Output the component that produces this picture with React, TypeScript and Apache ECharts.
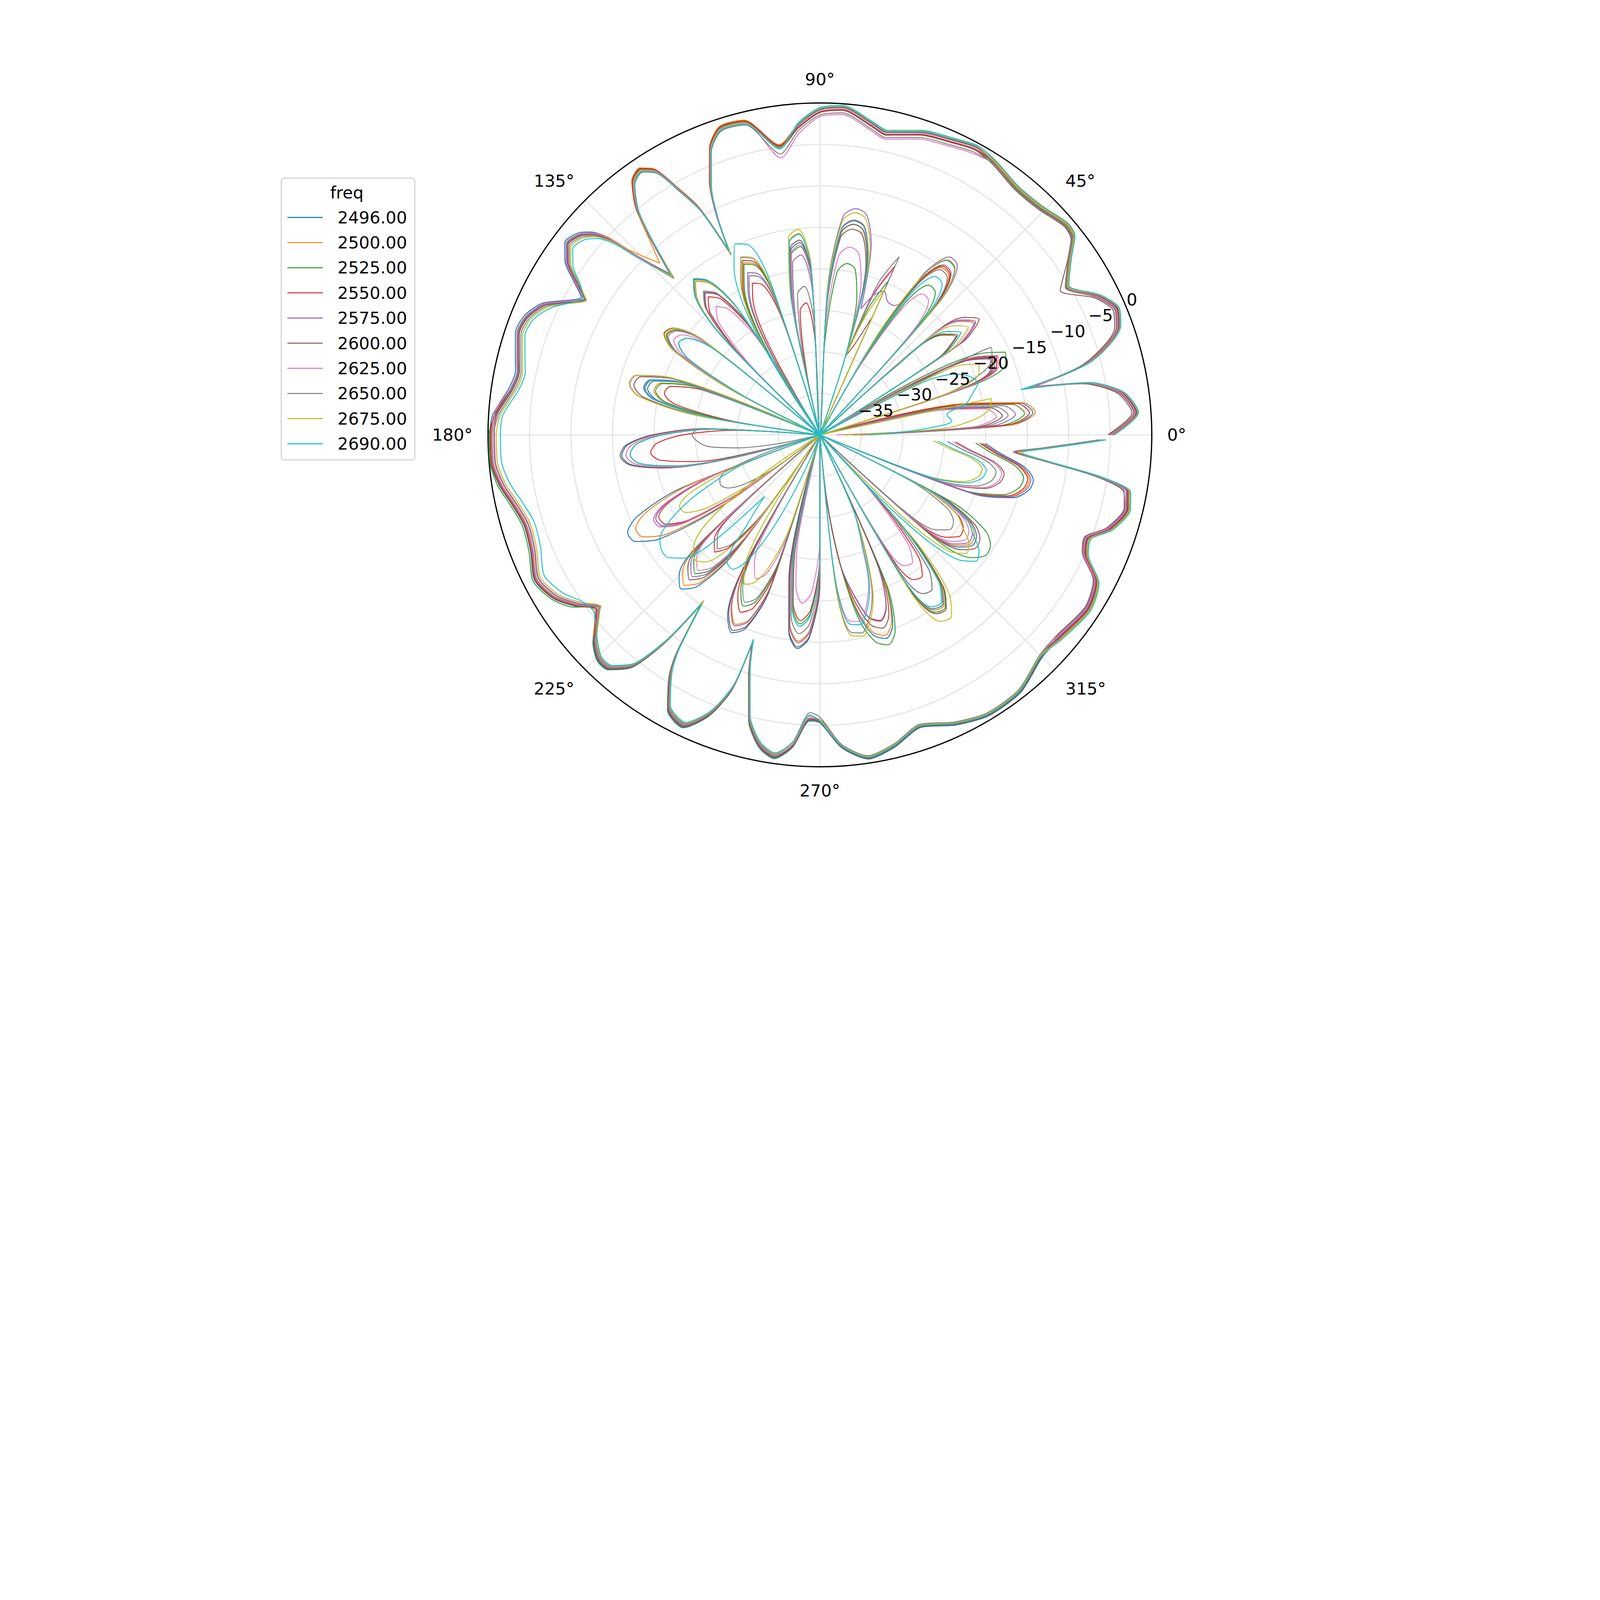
import { useEffect, useRef } from 'react';
import * as echarts from 'echarts';

const FONT = 'DejaVu Sans';

const FREQS = ['2496.00', '2500.00', '2525.00', '2550.00', '2575.00', '2600.00', '2625.00', '2650.00', '2675.00', '2690.00'];
const COLORS = ['#1f77b4', '#ff7f0e', '#2ca02c', '#d62728', '#9467bd', '#8c564b', '#e377c2', '#7f7f7f', '#bcbd22', '#17becf'];

// outer cut: angles (deg) shared by all frequencies
const OUTER_DEG = [
  0, 4, 8, 11, 12.7, 15, 20, 23, 26.5,
  31, 35, 38, 40.5, 45.5, 49.5, 52, 57.5,
  61.5, 66, 71.5, 77.5, 80.5, 86, 90, 94,
  98, 103.5, 108, 111, 113.5, 115.2, 116.3, 118, 120, 122, 124, 126.5, 129, 130.7, 133,
  135.9, 137, 138.5, 140, 143, 145.7, 148, 150, 154.6, 158, 161.5, 165, 168, 171.5, 176.5,
  180, 185, 189, 193, 197, 202, 207, 211.5, 215, 218,
  222.5, 225.5, 228, 231, 233.3, 235, 236.7, 238, 241, 245, 248.5, 251, 252, 253.5, 256, 259, 262, 265, 268,
  270, 274, 278.5, 283.5, 289, 295, 301, 308, 315,
  320, 327, 332, 336, 339, 342, 346.5, 349.5, 351.5, 353.5, 355, 356.5, 358, 359,
];

const OUTER_2496 = [
  -4.7, -1.7, -3.2, -7.1, -13.7, -6.5, -1.6, -1.0, -2.4,
  -5.1, -3.1, -1.1, -0.8, -1.6, -1.8, -1.7, -0.8,
  -0.5, -1.0, -1.5, -2.6, -1.9, -0.4, -0.75, -2.5,
  -4.7, -1.0, -0.9, -2.9, -6.6, -10.6, -15.4, -8.9, -5.5, -2.2, -1.2, -1.9, -4.7, -8.4, -13.8,
  -8.4, -5.1, -3.1, -2.1, -1.5, -2.8, -5.0, -6.8, -3.0, -1.6, -1.3, -2.0, -2.5, -2.1, -0.5,
  -0.2, -0.2, -0.9, -2.0, -2.7, -2.4, -1.4, -2.3, -4.0, -5.8,
  -2.9, -1.75, -1.9, -3.9, -8.7, -15.3, -8.4, -5.7, -2.1, -1.05, -3.6, -7.5, -13.6, -9.7, -4.5, -1.6, -0.6, -2.2, -5.5,
  -5.3, -2.2, -0.5, -1.3, -2.7, -1.4, -0.5, -0.65, -2.1,
  -2.1, -1.4, -2.2, -4.9, -5.3, -3.2, -1.8, -2.2, -6.0, -12.9, -16.2, -13.0, -9.0, -5.8,
];
const OUTER_2500 = [
  -4.6, -1.6, -3.1, -7.0, -14.0, -6.4, -1.5, -0.9, -2.3,
  -5.1, -3.1, -1.1, -0.8, -1.6, -1.8, -1.7, -0.8,
  -0.6, -1.1, -1.6, -2.7, -2.0, -0.5, -0.85, -2.6,
  -4.7, -1.0, -0.9, -2.9, -6.6, -10.8, -15.0, -8.9, -5.5, -2.2, -1.2, -1.9, -4.7, -8.0, -11.7,
  -8.0, -5.1, -3.3, -2.3, -1.7, -3.0, -5.2, -7.0, -3.2, -1.8, -1.5, -2.2, -2.7, -2.3, -0.7,
  -0.4, -0.4, -1.1, -2.2, -2.9, -2.6, -1.6, -2.5, -4.2, -5.6,
  -3.0, -1.85, -2.0, -4.0, -8.8, -15.0, -8.5, -5.8, -2.2, -1.15, -3.7, -7.6, -13.9, -9.8, -4.6, -1.7, -0.7, -2.3, -5.6,
  -5.4, -2.3, -0.6, -1.4, -2.8, -1.5, -0.6, -0.75, -2.2,
  -2.0, -1.3, -2.1, -4.8, -5.2, -3.1, -1.7, -2.1, -5.9, -12.8, -16.0, -12.9, -8.9, -5.7,
];
const OUTER_2525 = [
  -4.9, -1.9, -3.4, -7.3, -13.8, -6.7, -1.8, -1.2, -2.6,
  -5.4, -3.4, -1.4, -1.1, -1.9, -2.1, -2.0, -1.1,
  -0.9, -1.4, -1.9, -3.0, -2.3, -0.8, -1.15, -2.9,
  -4.9, -1.2, -1.1, -3.1, -6.8, -10.8, -15.6, -9.1, -5.7, -2.4, -1.4, -2.1, -4.9, -8.6, -13.9,
  -8.7, -5.4, -3.4, -2.4, -1.8, -3.1, -5.3, -7.4, -3.3, -1.9, -1.6, -2.3, -2.8, -2.4, -0.8,
  -0.1, -0.1, -0.7, -1.8, -2.5, -2.2, -1.2, -2.1, -3.8, -6.5,
  -3.0, -1.85, -2.0, -4.0, -8.8, -15.0, -8.5, -5.8, -2.2, -1.15, -3.7, -7.6, -13.8, -9.8, -4.6, -1.7, -0.7, -2.3, -5.6,
  -5.6, -2.5, -0.8, -1.6, -3.0, -1.7, -0.8, -0.95, -2.4,
  -2.3, -1.6, -2.4, -5.1, -5.5, -3.4, -2.0, -2.4, -6.2, -13.1, -16.5, -13.2, -9.2, -6.0,
];
const OUTER_2550 = [
  -4.8, -1.8, -3.3, -7.2, -13.5, -6.6, -1.7, -1.1, -2.5,
  -5.3, -3.3, -1.3, -1.0, -1.8, -2.0, -1.9, -1.0,
  -0.8, -1.3, -1.8, -2.9, -2.2, -0.7, -1.05, -2.8,
  -4.8, -1.1, -1.0, -3.0, -6.7, -10.7, -15.2, -9.0, -5.6, -2.3, -1.3, -2.0, -4.8, -8.5, -13.5,
  -8.6, -5.3, -3.3, -2.3, -1.7, -3.0, -5.2, -7.0, -3.2, -1.8, -1.5, -2.2, -2.7, -2.3, -0.7,
  -0.3, -0.3, -1.0, -2.1, -2.8, -2.5, -1.5, -2.4, -4.1, -5.9,
  -3.1, -1.95, -2.1, -4.1, -8.9, -15.4, -8.6, -5.9, -2.3, -1.25, -3.8, -7.7, -13.5, -9.9, -4.7, -1.8, -0.8, -2.4, -5.7,
  -5.5, -2.4, -0.7, -1.5, -2.9, -1.6, -0.7, -0.85, -2.3,
  -2.2, -1.5, -2.3, -5.0, -5.4, -3.3, -1.9, -2.3, -6.1, -13.0, -16.3, -13.1, -9.1, -5.9,
];
const OUTER_2575 = [
  -5.0, -2.0, -3.5, -7.4, -13.9, -6.8, -1.9, -1.3, -2.7,
  -5.3, -3.3, -1.3, -1.0, -1.8, -2.0, -1.9, -1.0,
  -0.6, -1.1, -1.6, -2.7, -2.0, -0.5, -0.85, -2.6,
  -5.0, -1.3, -1.2, -3.2, -6.9, -10.9, -15.6, -9.2, -5.8, -2.5, -1.5, -2.2, -5.0, -8.7, -14.0,
  -8.8, -5.5, -3.5, -2.5, -1.9, -3.2, -5.4, -7.2, -3.4, -2.0, -1.7, -2.4, -2.9, -2.5, -0.9,
  -0.5, -0.5, -1.2, -2.3, -3.0, -2.7, -1.7, -2.6, -4.3, -6.1,
  -3.2, -2.05, -2.2, -4.2, -9.0, -15.5, -8.7, -6.0, -2.4, -1.35, -3.9, -7.8, -13.9, -10.0, -4.8, -1.9, -0.9, -2.5, -5.8,
  -5.6, -2.5, -0.8, -1.6, -3.0, -1.7, -0.8, -0.95, -2.4,
  -2.3, -1.6, -2.4, -5.1, -5.5, -3.4, -2.0, -2.4, -6.2, -13.1, -16.4, -13.2, -9.2, -6.0,
];
const OUTER_2600 = [
  -5.3, -2.3, -3.8, -7.7, -14.3, -7.1, -2.2, -1.6, -3.0,
  -6.2, -3.6, -1.6, -1.3, -2.1, -2.3, -2.2, -1.3,
  -0.9, -1.4, -1.9, -3.0, -2.3, -0.8, -1.15, -2.9,
  -5.1, -1.4, -1.3, -3.3, -7.0, -11.0, -15.8, -9.3, -5.9, -2.6, -1.6, -2.3, -5.1, -8.8, -14.2,
  -8.9, -5.6, -3.6, -2.6, -2.0, -3.3, -5.5, -7.3, -3.5, -2.1, -1.8, -2.5, -3.0, -2.6, -1.0,
  -0.7, -0.7, -1.4, -2.5, -3.2, -2.9, -1.9, -2.8, -4.5, -6.3,
  -3.1, -1.95, -2.1, -4.1, -8.9, -15.5, -8.6, -5.9, -2.3, -1.25, -3.8, -7.7, -13.8, -9.9, -4.7, -1.8, -0.8, -2.4, -5.7,
  -5.4, -2.3, -0.6, -1.4, -2.8, -1.5, -0.6, -0.75, -2.2,
  -2.5, -1.8, -2.6, -5.3, -5.7, -3.6, -2.2, -2.8, -6.6, -13.3, -16.6, -13.4, -9.4, -6.2,
];
const OUTER_2625 = [
  -4.9, -1.9, -3.4, -7.3, -13.9, -6.7, -1.8, -1.2, -2.6,
  -5.5, -3.5, -1.5, -1.2, -2.0, -2.2, -2.1, -1.2,
  -1.4, -1.9, -2.4, -3.5, -2.8, -1.3, -1.65, -3.6,
  -6.3, -1.3, -1.2, -3.2, -6.9, -10.9, -15.5, -9.2, -5.8, -2.5, -1.5, -2.2, -5.0, -8.7, -13.9,
  -8.6, -5.3, -3.3, -2.3, -1.7, -3.0, -5.2, -7.0, -3.2, -1.8, -1.5, -2.2, -2.7, -2.3, -0.7,
  -0.8, -0.8, -1.5, -2.6, -3.3, -3.0, -2.0, -2.9, -4.6, -6.2,
  -3.3, -2.15, -2.3, -4.3, -9.1, -15.6, -8.8, -6.1, -2.5, -1.45, -4.0, -7.9, -14.0, -10.1, -4.9, -2.0, -1.0, -2.6, -5.9,
  -5.7, -2.6, -0.9, -1.7, -3.1, -1.8, -0.9, -1.05, -2.5,
  -2.4, -1.7, -2.5, -5.2, -5.6, -3.5, -2.1, -2.5, -6.3, -13.2, -16.5, -13.3, -9.3, -6.1,
];
const OUTER_2650 = [
  -5.1, -2.1, -3.6, -7.5, -14.5, -6.9, -2.0, -1.4, -2.8,
  -5.5, -3.5, -1.5, -1.2, -2.0, -2.2, -2.1, -1.2,
  -1.2, -1.7, -2.2, -3.3, -2.6, -1.1, -1.45, -3.2,
  -5.8, -1.6, -1.5, -3.5, -7.2, -11.2, -15.8, -9.5, -6.1, -2.8, -1.8, -2.5, -5.3, -9.0, -14.2,
  -9.1, -5.8, -3.8, -2.8, -2.2, -3.5, -5.7, -7.5, -3.7, -2.3, -2.0, -2.7, -3.2, -2.8, -1.2,
  -0.7, -0.7, -1.4, -2.5, -3.2, -2.9, -1.9, -2.8, -4.5, -6.3,
  -3.4, -2.25, -2.4, -4.4, -9.2, -15.6, -8.9, -6.2, -2.6, -1.55, -4.1, -8.0, -14.0, -10.2, -5.0, -2.1, -1.1, -2.9, -6.5,
  -6.0, -2.6, -0.9, -1.7, -3.1, -1.8, -0.9, -1.05, -2.5,
  -2.6, -1.9, -2.7, -5.4, -5.8, -3.7, -2.3, -2.7, -6.5, -13.4, -16.4, -13.5, -9.5, -6.3,
];
const OUTER_2675 = [
  -4.6, -1.6, -3.1, -7.0, -14.8, -6.4, -1.5, -0.9, -2.3,
  -5.2, -3.2, -1.2, -0.9, -1.7, -1.9, -1.8, -0.9,
  -0.4, -0.9, -1.4, -2.5, -1.8, -0.3, -0.65, -2.4,
  -5.1, -1.4, -1.3, -3.3, -7.0, -11.0, -15.6, -9.3, -5.9, -2.6, -1.6, -2.3, -5.1, -8.8, -14.0,
  -9.0, -6.0, -4.0, -3.0, -2.4, -3.7, -5.9, -7.4, -3.9, -2.5, -2.2, -2.9, -3.4, -3.0, -1.4,
  -1.0, -1.0, -1.7, -2.8, -3.5, -3.2, -2.2, -3.1, -4.8, -6.4,
  -3.5, -2.35, -2.5, -4.5, -9.2, -15.6, -9.0, -6.3, -2.7, -1.65, -4.2, -8.1, -14.0, -10.3, -5.1, -2.2, -1.2, -2.8, -6.1,
  -5.6, -2.5, -0.8, -1.6, -3.0, -1.7, -0.8, -0.95, -2.4,
  -1.9, -1.2, -2.0, -4.7, -5.1, -3.0, -1.6, -2.0, -5.8, -12.7, -15.8, -12.8, -8.8, -5.6,
];
const OUTER_2690 = [
  -4.5, -1.5, -3.0, -6.9, -15.2, -6.3, -1.4, -0.8, -2.2,
  -5.0, -3.0, -1.0, -0.7, -1.5, -1.7, -1.6, -0.7,
  -0.3, -0.8, -1.3, -2.4, -1.7, -0.2, -0.55, -2.3,
  -5.2, -1.5, -1.4, -3.4, -7.1, -11.1, -15.2, -9.4, -6.0, -2.7, -1.7, -2.4, -5.2, -8.9, -13.6,
  -9.2, -6.3, -4.3, -3.3, -2.7, -4.0, -6.0, -7.0, -4.2, -2.8, -2.5, -3.2, -3.7, -3.3, -1.7,
  -1.5, -1.5, -2.2, -3.3, -4.0, -3.7, -2.7, -3.6, -5.0, -5.4,
  -3.6, -2.45, -2.6, -4.6, -9.4, -15.2, -9.1, -6.4, -2.8, -1.75, -4.3, -8.2, -14.1, -10.4, -5.2, -2.3, -1.3, -2.9, -6.2,
  -5.5, -2.4, -0.7, -1.5, -2.9, -1.6, -0.7, -0.85, -2.3,
  -1.8, -1.1, -1.9, -4.6, -5.0, -2.9, -1.5, -1.9, -5.7, -12.6, -15.6, -12.7, -8.7, -5.5,
];

// inner cut: one sample every 3 degrees
const INNER_DEG = [
  0, 3, 6, 9, 12, 15, 18, 21, 24, 27, 30, 33, 36, 39, 42, 45, 48, 51, 54, 57,
  60, 63, 66, 69, 72, 75, 78, 81, 84, 87, 90, 93, 96, 99, 102, 105, 108, 111, 114, 117,
  120, 123, 126, 129, 132, 135, 138, 141, 144, 147, 150, 153, 156, 159, 162, 165, 168, 171, 174, 177,
  180, 183, 186, 189, 192, 195, 198, 201, 204, 207, 210, 213, 216, 219, 222, 225, 228, 231, 234, 237,
  240, 243, 246, 249, 252, 255, 258, 261, 264, 267, 270, 273, 276, 279, 282, 285, 288, 291, 294, 297,
  300, 303, 306, 309, 312, 315, 318, 321, 324, 327, 330, 333, 336, 339, 342, 345, 348, 351, 354, 357,
];

const INNER_2496 = [
  -36, -17, -14.2, -15.5, -22, -40, -22, -17.5, -17, -20, -40, -20, -16.8, -18, -25, -40,
  -19, -14.2, -14, -17, -26, -40, -40, -40, -30, -18, -14.8, -14.3, -15.5, -24, -40,
  -21, -16.7, -17.5, -25, -40, -22, -17.2, -16.6, -19, -40, -22, -17, -15.8, -17.5, -24, -40,
  -22, -18.5, -18, -20, -28, -40, -23, -19, -18.5, -20, -27, -40,
  -26, -20, -16.8, -16, -17, -21, -30, -40, -22, -16, -14, -14.3, -17, -25, -40,
  -21, -16, -15, -16.5, -22, -40, -22, -15.5, -13.9, -15, -20, -40, -22, -16, -14.1, -15.5, -22, -40,
  -32, -24, -18, -15, -14.2, -15.5, -21, -40, -20, -15, -14.8, -17, -25, -40,
  -23, -18.5, -17.3, -17.5, -19, -24, -40, -20, -15.5, -14, -13.7, -15, -18, -20,
];
const INNER_2500 = [
  -35, -16.7, -13.9, -15.2, -21.7, -40, -22.2, -17.7, -17.2, -20.2, -40, -20.2, -17, -18.2, -25.2, -40,
  -20.1, -15.3, -15.1, -18.1, -27.1, -40, -40, -40, -30, -18.5, -15.3, -14.9, -16, -24.5, -40,
  -19.9, -15.6, -16.4, -23.9, -40, -22.7, -17.9, -17.3, -19.7, -40, -22.4, -17.4, -16.2, -17.9, -24.4, -40,
  -21.9, -18.4, -17.9, -19.9, -27.9, -40, -23.8, -19.8, -19.3, -20.8, -27.8, -40,
  -26.5, -20.5, -17.3, -16.5, -17.5, -21.5, -30.5, -40, -23.1, -17.1, -15.1, -15.4, -18.1, -26.1, -40,
  -21.6, -16.6, -15.6, -17.1, -22.6, -40, -23, -16.6, -15, -16.1, -21, -40, -23, -16.9, -15, -16.4, -23, -40,
  -32, -24, -18.4, -15.4, -14.6, -15.9, -21.4, -40, -19.8, -14.8, -14.6, -16.8, -24.6, -40,
  -23.3, -18.8, -17.6, -17.8, -19.3, -24.3, -40, -20.5, -16, -14.5, -14.2, -15.5, -18.5, -20.5,
];
const INNER_2525 = [
  -37, -18, -15.2, -16.5, -23, -40, -20.5, -16, -15.5, -18.5, -40, -22.9, -19.7, -20.9, -27.9, -40,
  -22.7, -17.9, -17.7, -20.7, -29.7, -40, -19.6, -23.6, -30, -22.8, -19.6, -19.1, -20.3, -28.8, -40,
  -21.5, -17.2, -18, -25.5, -40, -22.9, -18.1, -17.5, -19.9, -40, -22.1, -17.1, -15.9, -17.6, -24.1, -40,
  -22, -18.5, -18, -20, -28, -40, -24, -20, -19.5, -21, -28, -40,
  -27, -21, -17.8, -17, -18, -22, -31, -40, -25.8, -19.8, -17.8, -18.1, -20.8, -28.8, -40,
  -23.5, -18.5, -17.5, -19, -24.5, -40, -25.4, -19, -17.4, -18.5, -23.4, -40, -25.1, -19, -17.1, -18.5, -25.1, -40,
  -32, -24, -17.2, -14.2, -13.4, -14.7, -20.2, -40, -19.5, -14.5, -14.3, -16.5, -24.3, -40,
  -21, -16.5, -15.3, -15.5, -17, -22, -40, -21.2, -16.7, -15.2, -14.9, -16.2, -19.2, -21.2,
];
const INNER_2550 = [
  -36, -17.4, -14.6, -15.9, -22.4, -40, -21.7, -17.2, -16.7, -19.7, -40, -22.7, -19.5, -20.7, -27.7, -40,
  -19.9, -15.1, -14.9, -17.9, -26.9, -40, -17.7, -21.7, -30, -17.5, -14.3, -13.8, -15, -23.5, -40,
  -28.3, -24, -24.8, -32.3, -40, -25.4, -20.6, -20, -22.4, -40, -24.8, -19.8, -18.6, -20.3, -26.8, -40,
  -23.7, -20.2, -19.7, -21.7, -29.7, -40, -25.1, -21.1, -20.6, -22.1, -29.1, -40,
  -29.5, -23.5, -20.3, -19.5, -20.5, -24.5, -33.5, -40, -26.2, -20.2, -18.2, -18.5, -21.2, -29.2, -40,
  -27, -22, -21, -22.5, -28, -40, -24.6, -18.2, -16.6, -17.7, -22.6, -40, -25.5, -19.4, -17.5, -18.9, -25.5, -40,
  -32, -24, -20.2, -17.2, -16.4, -17.7, -23.2, -40, -24.2, -19.2, -19, -21.2, -29, -40,
  -24.9, -20.4, -19.2, -19.4, -20.9, -25.9, -40, -20.7, -16.2, -14.7, -14.4, -15.7, -18.7, -20.7,
];
const INNER_2575 = [
  -35, -19.1, -16.3, -17.6, -24.1, -40, -22.5, -18, -17.5, -20.5, -40, -19.9, -16.8, -18, -25, -40,
  -18.5, -13.7, -13.5, -16.5, -22, -22, -21, -22, -24, -16.1, -12.9, -12.4, -13.6, -22.1, -40,
  -22.5, -18.2, -19, -26.5, -40, -24, -19.2, -18.6, -21, -40, -24.2, -19.2, -18, -19.7, -26.2, -40,
  -22.2, -18.7, -18.2, -20.2, -28.2, -40, -22.5, -18.5, -18, -19.5, -26.5, -40,
  -27, -21, -17.8, -17, -18, -22, -31, -40, -25.8, -19.8, -17.8, -18.1, -20.8, -28.8, -40,
  -23, -18, -17, -18.5, -24, -40, -22.8, -16.4, -14.8, -15.9, -20.8, -40, -22.8, -16.7, -14.8, -16.2, -22.8, -40,
  -32, -24, -20.3, -17.3, -16.5, -17.8, -23.3, -40, -22.2, -17.2, -17, -19.2, -27, -40,
  -23.6, -19.1, -17.9, -18.1, -19.6, -24.6, -40, -20.3, -15.8, -14.3, -14, -15.3, -18.3, -20.3,
];
const INNER_2600 = [
  -37, -20.7, -17.9, -19.2, -25.7, -40, -22.3, -17.8, -17.3, -20.3, -40, -19.5, -16.3, -17.5, -24.5, -40,
  -19.7, -14.9, -14.7, -17.7, -26.7, -40, -24.3, -28.3, -30, -18, -14.8, -14.3, -15.5, -24, -40,
  -20.7, -16.4, -17.2, -24.7, -40, -22.4, -17.6, -17, -19.4, -40, -24.1, -19.1, -17.9, -19.6, -26.1, -40,
  -21.6, -18.1, -17.6, -19.6, -27.6, -40, -21.3, -17.3, -16.8, -18.3, -25.3, -40,
  -25.8, -19.8, -16.6, -15.8, -16.8, -20.8, -29.8, -40, -25.5, -19.5, -17.5, -17.8, -20.5, -28.5, -40,
  -22.5, -17.5, -16.5, -18, -23.5, -40, -22.2, -15.8, -14.2, -15.3, -20.2, -40, -22.3, -16.2, -14.3, -15.7, -22.3, -40,
  -32, -24, -19.3, -16.3, -15.5, -16.8, -22.3, -40, -19.3, -14.3, -14.1, -16.3, -24.1, -40,
  -22.5, -18, -16.8, -17, -18.5, -23.5, -40, -23.6, -19.1, -17.6, -17.3, -18.6, -21.6, -23.6,
];
const INNER_2625 = [
  -38, -21.4, -18.6, -19.9, -26.4, -40, -21.5, -17, -16.5, -19.5, -40, -20.3, -17.1, -18.3, -25.3, -40,
  -24, -19.2, -19, -22, -31, -40, -18, -22, -30, -20.8, -17.6, -17.1, -18.3, -26.8, -40,
  -21.3, -17, -17.8, -25.3, -40, -22, -17.2, -16.6, -19, -40, -26.3, -21.3, -20.1, -21.8, -28.3, -40,
  -23, -19.5, -19, -21, -29, -40, -20.8, -16.8, -16.3, -17.8, -24.8, -40,
  -26.5, -20.5, -17.3, -16.5, -17.5, -21.5, -30.5, -40, -25.5, -19.5, -17.5, -17.8, -20.5, -28.5, -40,
  -24, -19, -18, -19.5, -25, -40, -29, -22.6, -21, -22.1, -27, -40, -27.6, -21.5, -19.6, -21, -27.6, -40,
  -23, -17.3, -17, -18.5, -21, -26, -30, -40, -26.2, -21.2, -21, -23.2, -31, -40,
  -24.1, -19.6, -18.4, -18.6, -20.1, -25.1, -40, -23.9, -19.4, -17.9, -17.6, -18.9, -21.9, -23.9,
];
const INNER_2650 = [
  -36, -20, -17.2, -18.5, -25, -40, -24, -19, -17.3, -16.8, -40, -22.2, -19, -20.2, -27.2, -40,
  -20.4, -15.6, -15.4, -18.4, -27.4, -40, -16.5, -20.5, -30, -18.6, -15.4, -14.9, -16.1, -24.6, -40,
  -26.3, -22, -22.8, -30.3, -40, -24.4, -19.6, -19, -21.4, -40, -23.9, -18.9, -17.7, -19.4, -25.9, -40,
  -23.7, -20.2, -19.7, -21.7, -29.7, -40, -22.7, -18.7, -18.2, -19.7, -26.7, -40,
  -25.5, -24.6, -25.2, -26.5, -30, -35, -40, -34, -28, -26.8, -26.6, -27.2, -29, -33, -40,
  -27.5, -22.5, -21.5, -23, -28.5, -40, -25.9, -19.5, -17.9, -19, -23.9, -40, -23.9, -17.8, -15.9, -17.3, -23.9, -40,
  -21.6, -15.9, -15.6, -17.1, -19.6, -24.6, -30, -40, -22.2, -17.2, -17, -19.2, -27, -40,
  -26.3, -21.8, -20.6, -20.8, -22.3, -27.3, -40, -24.6, -20.1, -18.6, -18.3, -19.6, -22.6, -24.6,
];
const INNER_2675 = [
  -37, -25, -21, -19.2, -18.9, -40, -24, -19.5, -19, -22, -40, -21.1, -17.9, -19.1, -26.1, -40,
  -18.9, -14.1, -13.9, -16.9, -25.9, -40, -20.7, -24.7, -30, -16.6, -13.4, -12.9, -14.1, -22.6, -40,
  -19.4, -15.1, -15.9, -23.4, -40, -21.9, -17.1, -16.5, -18.9, -40, -22.2, -17.2, -16, -17.7, -24.2, -40,
  -21.7, -18.2, -17.7, -19.7, -27.7, -40, -20.7, -16.7, -16.2, -17.7, -24.7, -40,
  -27, -21, -17.8, -17, -18, -22, -31, -40, -29, -23, -21, -21.3, -24, -32, -40,
  -19.5, -18.7, -19.4, -22, -27, -40, -22, -19.8, -20.5, -23, -28, -40, -24.8, -18.7, -16.8, -18.2, -24.8, -40,
  -21.2, -15.5, -15.2, -16.7, -19.2, -24.2, -30, -40, -18.2, -13.2, -13, -15.2, -23, -40,
  -19, -17.3, -17.8, -19.5, -21, -26, -40, -26.3, -21.8, -20.3, -20, -21.3, -24.3, -26.3,
];
const INNER_2690 = [
  -34, -28, -24, -24.5, -22, -21, -20, -20.5, -22, -26, -40, -22.2, -19, -20.2, -27.2, -40,
  -21.4, -16.6, -16.4, -19.4, -28.4, -40, -40, -40, -30, -17.6, -14.4, -13.9, -15.1, -23.6, -40,
  -20, -15.7, -16.5, -24, -40, -20.2, -15.4, -14.8, -17.2, -40, -22.1, -17.1, -15.9, -17.6, -24.1, -40,
  -23.7, -20.2, -19.7, -21.7, -29.7, -40, -22.6, -18.6, -18.1, -19.6, -26.6, -40,
  -27, -21, -17.8, -17, -18, -22, -31, -40, -30, -26, -22, -19, -17, -16.4, -16.5,
  -17.8, -21.5, -30, -26, -21, -20.7, -22.5, -27, -33, -38, -40, -40, -24.8, -18.7, -16.8, -18.2, -24.8, -40,
  -22.6, -16.9, -16.6, -18.1, -20.6, -25.6, -30, -40, -20.3, -15.3, -15.1, -17.3, -25.1, -40,
  -17.5, -15.8, -16.3, -18, -19.5, -24.5, -40, -25.8, -21.3, -19.8, -19.5, -20.8, -23.8, -25.8,
];

const OUTER = [OUTER_2496, OUTER_2500, OUTER_2525, OUTER_2550, OUTER_2575, OUTER_2600, OUTER_2625, OUTER_2650, OUTER_2675, OUTER_2690];
const INNER = [INNER_2496, INNER_2500, INNER_2525, INNER_2550, INNER_2575, INNER_2600, INNER_2625, INNER_2650, INNER_2675, INNER_2690];

const R_MIN = -40;
const R_MAX = 0;
const R_STEP = 5;
const GRID = '#e6e6e6';

// layout is designed for a 7800 x 4200 page and scaled to the real window
const DESIGN_W = 7800;
const DESIGN_H = 4200;

function buildOption(s: number) {
  const px = (v: number) => v * s;

  const series: any[] = [];
  FREQS.forEach((name, i) => {
    series.push({
      type: 'line',
      name,
      coordinateSystem: 'polar',
      polarIndex: 0,
      symbol: 'none',
      smooth: 0.3,
      color: COLORS[i],
      lineStyle: { width: px(4.5), color: COLORS[i] },
      data: INNER_DEG.map((deg, k) => [INNER[i][k], deg]),
    });
    series.push({
      type: 'line',
      name,
      coordinateSystem: 'polar',
      polarIndex: 0,
      symbol: 'none',
      smooth: 0.25,
      color: COLORS[i],
      lineStyle: { width: px(4.5), color: COLORS[i] },
      data: OUTER_DEG.map((deg, k) => [OUTER[i][k], deg]),
    });
  });

  return {
    animation: false,
    backgroundColor: '#ffffff',
    textStyle: { fontFamily: FONT },
    polar: [
      { center: [px(3997), px(2120)], radius: px(1618) },
      { center: [px(3997), px(2120)], radius: px(1618) },
    ],
    angleAxis: [
      {
        polarIndex: 0,
        type: 'value',
        min: 0,
        max: 360,
        interval: 45,
        startAngle: 0,
        clockwise: false,
        axisLine: { lineStyle: { color: '#000', width: px(6) } },
        axisTick: { show: false },
        axisLabel: {
          formatter: '{value}°',
          fontSize: px(82),
          fontFamily: FONT,
          color: '#000',
          margin: px(75),
        },
        splitLine: { lineStyle: { color: GRID, width: px(6) } },
      },
      {
        polarIndex: 1,
        type: 'value',
        min: 0,
        max: 360,
        startAngle: 22.5,
        clockwise: false,
        show: false,
      },
    ],
    radiusAxis: [
      {
        polarIndex: 0,
        type: 'value',
        min: R_MIN,
        max: R_MAX,
        interval: R_STEP,
        axisLine: { show: false },
        axisTick: { show: false },
        axisLabel: { show: false },
        splitLine: {
          lineStyle: {
            color: [GRID, GRID, GRID, GRID, GRID, GRID, GRID, GRID, 'rgba(0,0,0,0)'],
            width: px(6),
          },
        },
      },
      {
        polarIndex: 1,
        type: 'value',
        min: R_MIN,
        max: R_MAX,
        interval: R_STEP,
        z: 5,
        axisLine: { show: false },
        axisTick: { show: false },
        splitLine: { show: false },
        axisLabel: {
          margin: 0,
          align: 'left',
          verticalAlign: 'bottom',
          fontSize: px(82),
          fontFamily: FONT,
          color: '#000',
          formatter: (v: number) => (v === R_MIN ? '' : String(v).replace('-', '\u2212')),
        },
      },
    ],
    legend: {
      orient: 'vertical',
      left: px(1371),
      top: px(868),
      data: FREQS,
      icon: 'rect',
      itemWidth: px(173),
      itemHeight: px(5),
      itemGap: px(40.6),
      padding: [px(151), px(38), px(38), px(30)],
      backgroundColor: '#ffffff',
      borderColor: '#d6d6d6',
      borderWidth: px(6),
      borderRadius: px(16),
      textStyle: {
        fontSize: px(82),
        lineHeight: px(82),
        fontFamily: FONT,
        color: '#000',
        padding: [0, 0, 0, px(62)],
      },
    },
    graphic: [
      {
        type: 'text',
        x: px(1691),
        y: px(938),
        z: 10,
        style: {
          text: 'freq',
          fontSize: px(82),
          fontFamily: FONT,
          fill: '#000',
          align: 'center',
          verticalAlign: 'middle',
        },
      },
    ],
    series,
  };
}

export default function App() {
  const chartRef = useRef<HTMLDivElement>(null);

  useEffect(() => {
    const el = chartRef.current;
    if (!el) return;
    document.body.style.margin = '0';
    // the window may be smaller than the design size: scale everything to fit
    const vw = window.innerWidth || DESIGN_W;
    const vh = window.innerHeight || DESIGN_H;
    const s = Math.min(vw / DESIGN_W, vh / DESIGN_H, 1);
    el.style.width = `${DESIGN_W * s}px`;
    el.style.height = `${DESIGN_H * s}px`;

    const chart = echarts.init(el, null, { renderer: 'svg' });
    chart.setOption(buildOption(s));

    return () => {
      chart.dispose();
    };
  }, []);

  return <div ref={chartRef} style={{ width: `${DESIGN_W}px`, height: `${DESIGN_H}px` }} />;
}
